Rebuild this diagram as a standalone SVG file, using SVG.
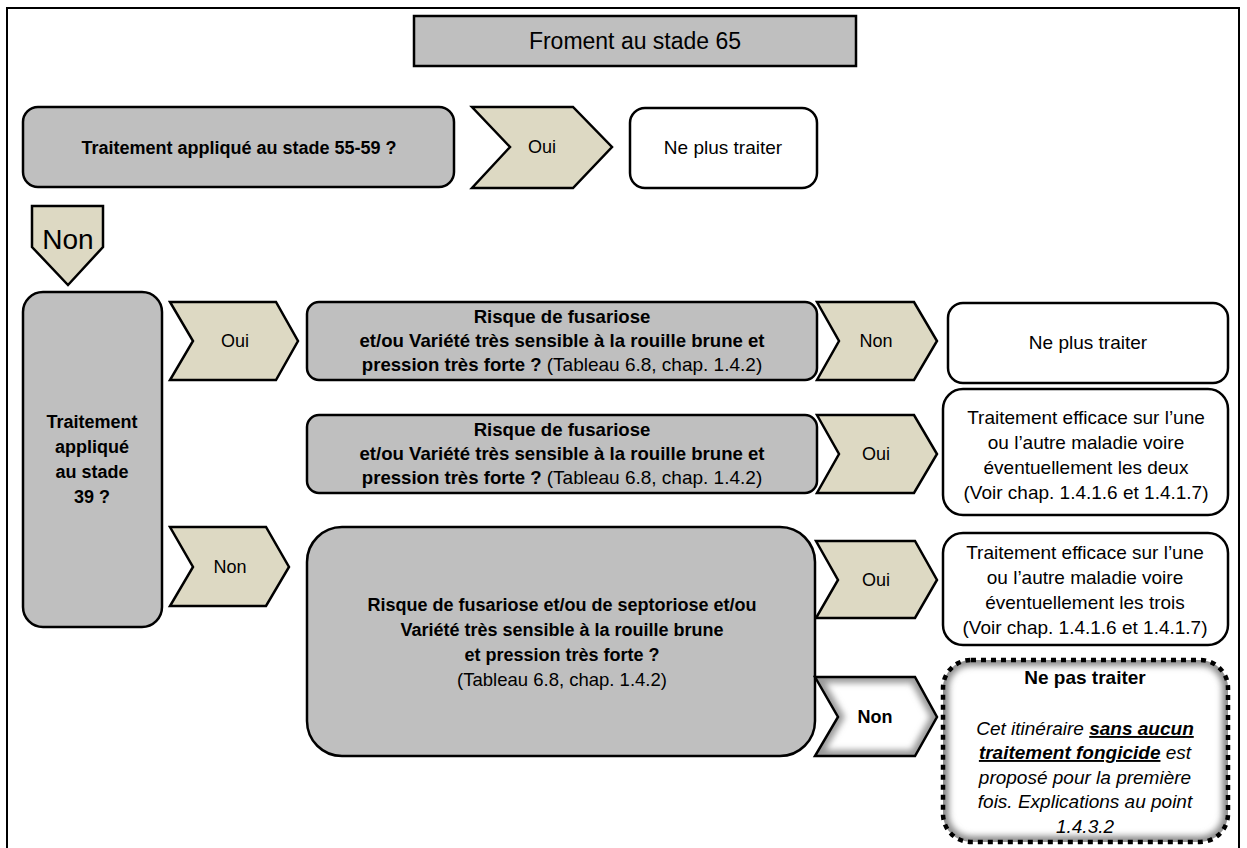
<svg xmlns="http://www.w3.org/2000/svg" width="1247" height="848" viewBox="0 0 1247 848">
<style>
.box{stroke:#000;stroke-width:2.5}
.g{fill:#bfbfbf}
.w{fill:#fff}
.chev{fill:#ddd9c3;stroke:#000;stroke-width:2.5;stroke-linejoin:miter}
text{font-family:"Liberation Sans",Arial,sans-serif;fill:#000;text-anchor:middle}
.b{font-weight:bold;font-size:18px}
.b2{font-weight:bold;font-size:18.6px}
.r{font-size:19px}
.c{font-size:18px}
.i{font-style:italic;font-size:19px}
</style>
<defs>
<filter id="blur" x="-20%" y="-20%" width="140%" height="140%"><feGaussianBlur stdDeviation="3"/></filter>
<clipPath id="clipNp"><rect x="943" y="660" width="285" height="182" rx="28"/></clipPath>
<clipPath id="clipNon"><polygon points="815,677 915,677 937,717 915,756 815,756 838,717"/></clipPath>
</defs>
<rect x="7" y="8" width="1232" height="900" fill="#fff" stroke="#000" stroke-width="2"/>

<g id="title">
<rect class="box g" x="414" y="16" width="442" height="50"/>
<text x="635" y="49" style="font-size:23px">Froment au stade 65</text>
</g>

<g id="q1">
<rect class="box g" x="23" y="107" width="431" height="80" rx="15"/>
<text class="b" x="239" y="154">Traitement appliqué au stade 55-59 ?</text>
</g>

<g id="stop1">
<rect class="box w" x="630" y="108" width="187" height="80" rx="15"/>
<text class="r" x="723" y="154">Ne plus traiter</text>
</g>

<g id="q2">
<rect class="box g" x="23" y="292" width="139" height="335" rx="20"/>
<text class="b" x="92" y="428">Traitement</text>
<text class="b" x="92" y="453">appliqué</text>
<text class="b" x="92" y="478">au stade</text>
<text class="b" x="92" y="503">39 ?</text>
</g>

<g id="q3">
<rect class="box g" x="307" y="302" width="510" height="78" rx="12"/>
<text class="b2" x="562" y="323">Risque de fusariose</text>
<text class="b2" x="562" y="347">et/ou Variété très sensible à la rouille brune et</text>
<text class="b2" x="562" y="371">pression très forte ? <tspan style="font-weight:normal;font-size:19px">(Tableau 6.8, chap. 1.4.2)</tspan></text>
</g>

<g id="stop2">
<rect class="box w" x="948" y="303" width="280" height="80" rx="15"/>
<text class="r" x="1088" y="349">Ne plus traiter</text>
</g>

<g id="q4">
<rect class="box g" x="307" y="415" width="510" height="78" rx="12"/>
<text class="b2" x="562" y="436">Risque de fusariose</text>
<text class="b2" x="562" y="460">et/ou Variété très sensible à la rouille brune et</text>
<text class="b2" x="562" y="484">pression très forte ? <tspan style="font-weight:normal;font-size:19px">(Tableau 6.8, chap. 1.4.2)</tspan></text>
</g>

<g id="treat1">
<rect class="box w" x="943" y="389" width="285" height="126" rx="20"/>
<text class="r" x="1086" y="424">Traitement efficace sur l’une</text>
<text class="r" x="1086" y="449">ou l’autre maladie voire</text>
<text class="r" x="1086" y="474">éventuellement les deux</text>
<text class="r" x="1086" y="499">(Voir chap. 1.4.1.6 et 1.4.1.7)</text>
</g>

<g id="q5">
<rect class="box g" x="307" y="527" width="508" height="229" rx="35"/>
<text class="b" x="562" y="611">Risque de fusariose et/ou de septoriose et/ou</text>
<text class="b" x="562" y="636">Variété très sensible à la rouille brune</text>
<text class="b" x="562" y="661">et pression très forte ?</text>
<text x="562" y="686" style="font-size:18.5px">(Tableau 6.8, chap. 1.4.2)</text>
</g>

<g id="treat2">
<rect class="box w" x="943" y="533" width="285" height="112" rx="20"/>
<text class="r" x="1085" y="559">Traitement efficace sur l’une</text>
<text class="r" x="1085" y="584">ou l’autre maladie voire</text>
<text class="r" x="1085" y="609">éventuellement les trois</text>
<text class="r" x="1085" y="634">(Voir chap. 1.4.1.6 et 1.4.1.7)</text>
</g>

<g id="nopas">
<rect x="943" y="660" width="285" height="182" rx="28" fill="#fff"/>
<g clip-path="url(#clipNp)"><rect x="943" y="660" width="285" height="182" rx="28" fill="none" stroke="#8c8c8c" stroke-width="12" filter="url(#blur)"/></g>
<rect x="943" y="660" width="285" height="182" rx="28" fill="none" stroke="#000" stroke-width="4.5" stroke-dasharray="5 5"/>
<text class="b" x="1085" y="684" style="font-size:19px">Ne pas traiter</text>
<text class="i" x="1085" y="735">Cet itinéraire <tspan style="font-weight:bold;text-decoration:underline">sans aucun</tspan></text>
<text class="i" x="1085" y="759"><tspan style="font-weight:bold;text-decoration:underline">traitement fongicide</tspan>  est</text>
<text class="i" x="1085" y="784">proposé pour la première</text>
<text class="i" x="1085" y="808">fois.  Explications au point</text>
<text class="i" x="1085" y="833">1.4.3.2</text>
</g>

<g id="connectors">
<g id="c-oui1">
<polygon class="chev" points="472,107 573,107 612,147 573,188 472,188 510,147"/>
<text class="c" x="542" y="153">Oui</text>
</g>
<g id="c-non1">
<polygon class="chev" points="32,206 103,206 103,247 68,285 32,247"/>
<text x="68" y="249" style="font-size:28px">Non</text>
</g>
<g id="c-oui2">
<polygon class="chev" points="170,302 276,302 298,341 276,380 170,380 193,341"/>
<text class="c" x="235" y="347">Oui</text>
</g>
<g id="c-non2">
<polygon class="chev" points="170,527 266,527 289,567 266,606 170,606 193,567"/>
<text class="c" x="230" y="573">Non</text>
</g>
<g id="c-non3">
<polygon class="chev" points="817,302 914,302 937,341 914,380 817,380 839,341"/>
<text class="c" x="876" y="347">Non</text>
</g>
<g id="c-oui3">
<polygon class="chev" points="817,415 914,415 937,454 914,493 817,493 839,454"/>
<text class="c" x="876" y="460">Oui</text>
</g>
<g id="c-oui4">
<polygon class="chev" points="816,541 915,541 937,580 915,618 816,618 838,580"/>
<text class="c" x="876" y="586">Oui</text>
</g>
<g id="c-non4">
<polygon points="815,677 915,677 937,717 915,756 815,756 838,717" fill="#fff"/>
<g clip-path="url(#clipNon)"><polygon points="815,677 915,677 937,717 915,756 815,756 838,717" fill="none" stroke="#9a9a9a" stroke-width="12" filter="url(#blur)"/></g>
<polygon points="815,677 915,677 937,717 915,756 815,756 838,717" fill="none" stroke="#000" stroke-width="2.5"/>
<text class="b" x="875" y="723">Non</text>
</g>
</g>
</svg>
